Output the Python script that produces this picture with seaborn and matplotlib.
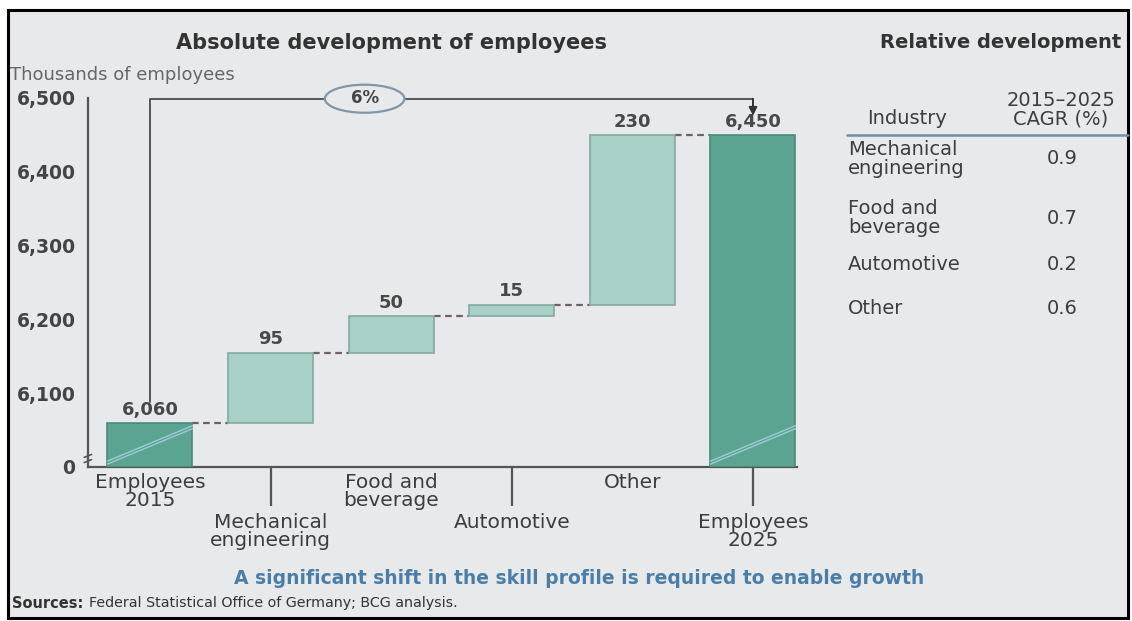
import matplotlib
matplotlib.use("Agg")
import matplotlib.pyplot as plt
import seaborn as sns
from matplotlib.patches import Ellipse, Rectangle

# ---- data -------------------------------------------------------------
categories = ["Employees\n2015", "Mechanical\nengineering", "Food and\nbeverage",
              "Automotive", "Other", "Employees\n2025"]
start_total = 6060          # thousands of employees, 2015
increments = [95, 50, 15, 230]
end_total = 6450            # thousands of employees, 2025
axis_floor = 6000           # value shown at the axis break (labelled "0")
y_ticks = [6100, 6200, 6300, 6400, 6500]
y_tick_labels = ["6,100", "6,200", "6,300", "6,400", "6,500"]
growth_label = "6%"

industries = ["Mechanical\nengineering", "Food and\nbeverage", "Automotive", "Other"]
cagr = [0.9, 0.7, 0.2, 0.6]

# ---- colours ----------------------------------------------------------
BG = "#e8e9ea"
DARK = "#5ba491"
DARK_EDGE = "#4d8a7b"
LIGHT = "#a9d0c6"
LIGHT_EDGE = "#82aaa1"
TEXT = "#3d3d3d"
AXIS = "#555555"
BLUE = "#4a7ea8"

sns.set_theme(style="white")
plt.rcParams["font.family"] = ["DejaVu Sans"]

W, H = 1132, 621
fig = plt.figure(figsize=(W / 100, H / 100), dpi=100, facecolor="white")


def px(x, y):
    return x / W, 1 - y / H


# framed background panel (kept behind the axes)
x0, y0 = px(8, 618)
x1, y1 = px(1128, 10)
fig.patches.append(Rectangle((x0, y0), x1 - x0, y1 - y0, transform=fig.transFigure,
                             facecolor=BG, edgecolor="black", linewidth=2.2, zorder=-5))

# ---- waterfall axes -----------------------------------------------------
ax_l, ax_b = px(88, 467)
ax_r, ax_t = px(797, 98)
ax = fig.add_axes([ax_l, ax_b, ax_r - ax_l, ax_t - ax_b])
ax.set_facecolor("none")

# cumulative levels of the running total
levels = [start_total]
for inc in increments:
    levels.append(levels[-1] + inc)
delta_bottoms = levels[:-1]

total_cats = [categories[0], categories[-1]]
total_heights = [start_total - axis_floor, end_total - axis_floor]
delta_cats = categories[1:-1]

bar_w = 0.705
sns.barplot(x=total_cats, y=total_heights, order=categories, bottom=[axis_floor, axis_floor],
            color=DARK, saturation=1, edgecolor=DARK_EDGE, linewidth=1.2, width=bar_w,
            ax=ax, zorder=3)
sns.barplot(x=delta_cats, y=increments, order=categories, bottom=delta_bottoms,
            color=LIGHT, saturation=1, edgecolor=LIGHT_EDGE, linewidth=1.2, width=bar_w,
            ax=ax, zorder=3)

ax.set_xlim(-0.514, 5.365)
ax.set_ylim(axis_floor, y_ticks[-1])

# dashed connectors between consecutive bars
for i, lvl in enumerate(levels):
    ax.plot([i + bar_w / 2, i + 1 - bar_w / 2], [lvl, lvl], color="#6e6262",
            linewidth=1.6, dashes=(3, 2), zorder=2)

# value labels above each bar
bar_tops = [start_total] + levels[1:] + [end_total]
bar_texts = [f"{start_total:,}"] + [str(v) for v in increments] + [f"{end_total:,}"]
for i, (top, txt) in enumerate(zip(bar_tops, bar_texts)):
    ax.annotate(txt, (i, top), xytext=(0, 3), textcoords="offset points",
                ha="center", va="bottom", fontsize=13, fontweight="bold", color="#484848")

# break marks across the two total bars
for i in (0, len(categories) - 1):
    for off in (0, 4):
        ax.plot([i - bar_w / 2, i + bar_w / 2], [axis_floor + 4 + off, axis_floor + 52 + off],
                color="#9ccbd6", linewidth=1.0, zorder=4)

# growth bracket with CAGR bubble and arrow
bracket_y = 6499
ax.plot([0, 0, 5], [start_total + 28, bracket_y, bracket_y], color="#555555",
        linewidth=1.4, clip_on=False, zorder=2)
ax.annotate("", xy=(5, end_total + 26), xytext=(5, bracket_y),
            arrowprops=dict(arrowstyle="-|>", color="#333333", lw=1.4,
                            mutation_scale=12, shrinkA=0, shrinkB=0),
            annotation_clip=False)
ax.add_patch(Ellipse((1.78, bracket_y), 0.66, 38, facecolor=BG, edgecolor="#7f97ab",
                     linewidth=1.6, zorder=5, clip_on=False))
ax.text(1.78, bracket_y + 1, growth_label, ha="center", va="center", fontsize=12,
        fontweight="bold", color="#444444", zorder=6)

# axes styling
sns.despine(ax=ax, top=True, right=True)
for side in ("left", "bottom"):
    ax.spines[side].set_color(AXIS)
    ax.spines[side].set_linewidth(1.6)
ax.set_yticks([axis_floor] + y_ticks)
ax.set_yticklabels(["0"] + y_tick_labels)
ax.tick_params(axis="y", length=0, pad=9, labelsize=13.5, labelcolor="#444444")
for lab in ax.get_yticklabels():
    lab.set_fontweight("bold")
ax.set_ylabel("")
ax.set_xlabel("")

# small break symbol on the value axis
for off in (0, 7):
    ax.plot([-0.545, -0.485], [axis_floor + 6 + off, axis_floor + 10 + off],
            color=AXIS, linewidth=1.2, clip_on=False)

# staggered category labels: every second label hangs below a long tick
ax.set_xticks(range(len(categories)))
ax.set_xticklabels(categories, fontsize=14.5, color=TEXT, linespacing=0.95)
ax.tick_params(axis="x", bottom=True, direction="out", length=0, width=1.6, color=AXIS)
long_tick = 28      # points
for i, tick in enumerate(ax.xaxis.get_major_ticks()):
    if i % 2 == 0:
        tick.set_pad(4)
        tick.tick1line.set_markersize(0)
    else:
        tick.set_pad(long_tick + 5)
        tick.tick1line.set_markersize(long_tick)
        tick.tick1line.set_markeredgewidth(1.6)

# ---- titles and notes ---------------------------------------------------
fig.text(*px(392, 43), "Absolute development of employees", ha="center", va="center",
         fontsize=15, fontweight="bold", color="#333333")
fig.text(*px(880, 43), "Relative development", ha="left", va="center",
         fontsize=14, fontweight="bold", color="#333333")
fig.text(*px(10, 75), "Thousands of employees", ha="left", va="center",
         fontsize=13, color="#666666")

# ---- CAGR table -----------------------------------------------------------
fig.text(*px(907, 119), "Industry", ha="center", va="center", fontsize=14, color=TEXT)
fig.text(*px(1061, 110), "2015–2025\nCAGR (%)", ha="center", va="center", fontsize=14,
         color=TEXT, linespacing=0.95)
hx0, hy = px(847, 135)
hx1, _ = px(1128, 135)
fig.add_artist(plt.Line2D([hx0, hx1], [hy, hy], transform=fig.transFigure,
                          color="#6f8ea6", linewidth=1.8))
row_y = [159, 218, 264, 308]
for name, val, ry in zip(industries, cagr, row_y):
    fig.text(*px(848, ry), name, ha="left", va="center", fontsize=14, color=TEXT,
             linespacing=0.95)
    fig.text(*px(1062, ry), f"{val:.1f}", ha="center", va="center", fontsize=14,
             color=TEXT)

fig.text(*px(579, 578), "A significant shift in the skill profile is required to enable growth",
         ha="center", va="center", fontsize=13.5, fontweight="bold", color=BLUE)
src = fig.text(*px(12, 603), "Sources:", ha="left", va="center", fontsize=10.5,
               fontweight="bold", color="#333333")
fig.texts.append(plt.Annotation("Federal Statistical Office of Germany; BCG analysis.",
                                xy=(1, 0.5), xycoords=src, xytext=(4, 0),
                                textcoords="offset points", ha="left", va="center",
                                fontsize=10.3, color="#333333"))
fig.texts[-1].set_figure(fig)

fig.savefig("out.png", dpi=100, facecolor="white")
